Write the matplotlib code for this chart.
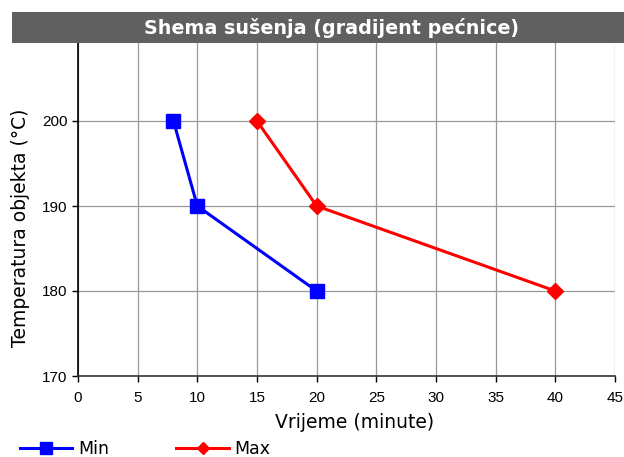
import matplotlib
matplotlib.use("Agg")
import matplotlib.pyplot as plt
from matplotlib.patches import Rectangle

# data
min_x = [8, 10, 20]
min_y = [200, 190, 180]
max_x = [15, 20, 40]
max_y = [200, 190, 180]
xticks = list(range(0, 50, 5))
yticks = [170, 180, 190, 200]

W, H = 624, 457
fig = plt.figure(figsize=(W / 100, H / 100), dpi=100)
fig.patch.set_facecolor("white")

# axes box in pixels: left 78, right 615, top 36, bottom 376
ax = fig.add_axes([78 / W, 1 - 376 / H, (615 - 78) / W, (376 - 36) / H])
ax.set_xlim(0, 45)
ax.set_ylim(170, 210)
ax.set_xticks(xticks)
ax.set_yticks(yticks)
ax.grid(True, color="#999999", linewidth=0.9)
ax.set_axisbelow(True)
for s in ["top", "right"]:
    ax.spines[s].set_visible(False)
ax.spines["left"].set_color("black")
ax.spines["bottom"].set_color("#333333")
ax.spines["left"].set_linewidth(1.2)
ax.spines["bottom"].set_linewidth(1.2)
ax.tick_params(length=4, width=1, labelsize=11, colors="black")
ax.tick_params(axis="x", pad=7)
for lab in ax.get_xticklabels() + ax.get_yticklabels():
    lab.set_family("Liberation Sans")

l1, = ax.plot(min_x, min_y, color="#0000ff", linewidth=2.2, marker="s",
              markersize=10, label="Min")
l2, = ax.plot(max_x, max_y, color="#ff0000", linewidth=2.2, marker="D",
              markersize=8, label="Max")

ax.set_xlabel("Vrijeme (minute)", fontsize=13.5, family="DejaVu Sans")
ax.set_ylabel("Temperatura objekta (°C)", fontsize=13.5, family="DejaVu Sans")
# label positions (pixels)
ax.xaxis.set_label_coords((355 - 78) / (615 - 78), -(413 - 376) / (376 - 36))
ax.yaxis.set_label_coords(-(78 - 30) / (615 - 78), (376 - 228) / (376 - 36))

# title bar
fig.patches.append(Rectangle((12 / W, 1 - 43 / H), (W - 12) / W, 31 / H,
                             transform=fig.transFigure, facecolor="#606060",
                             edgecolor="none", zorder=5))
fig.text(332 / W, 1 - 28 / H, "Shema sušenja (gradijent pećnice)",
         color="white", fontsize=13.8, fontweight="bold", ha="center", va="center",
         family="DejaVu Sans", zorder=6)

fig.legend(handles=[l1, l2], loc="lower left", bbox_to_anchor=(4 / W, -17 / H),
           ncol=2, frameon=False, fontsize=12.5, handlelength=3.0,
           columnspacing=3.9, handletextpad=0.35, markerscale=0.8)

fig.savefig("out.png", dpi=100)
